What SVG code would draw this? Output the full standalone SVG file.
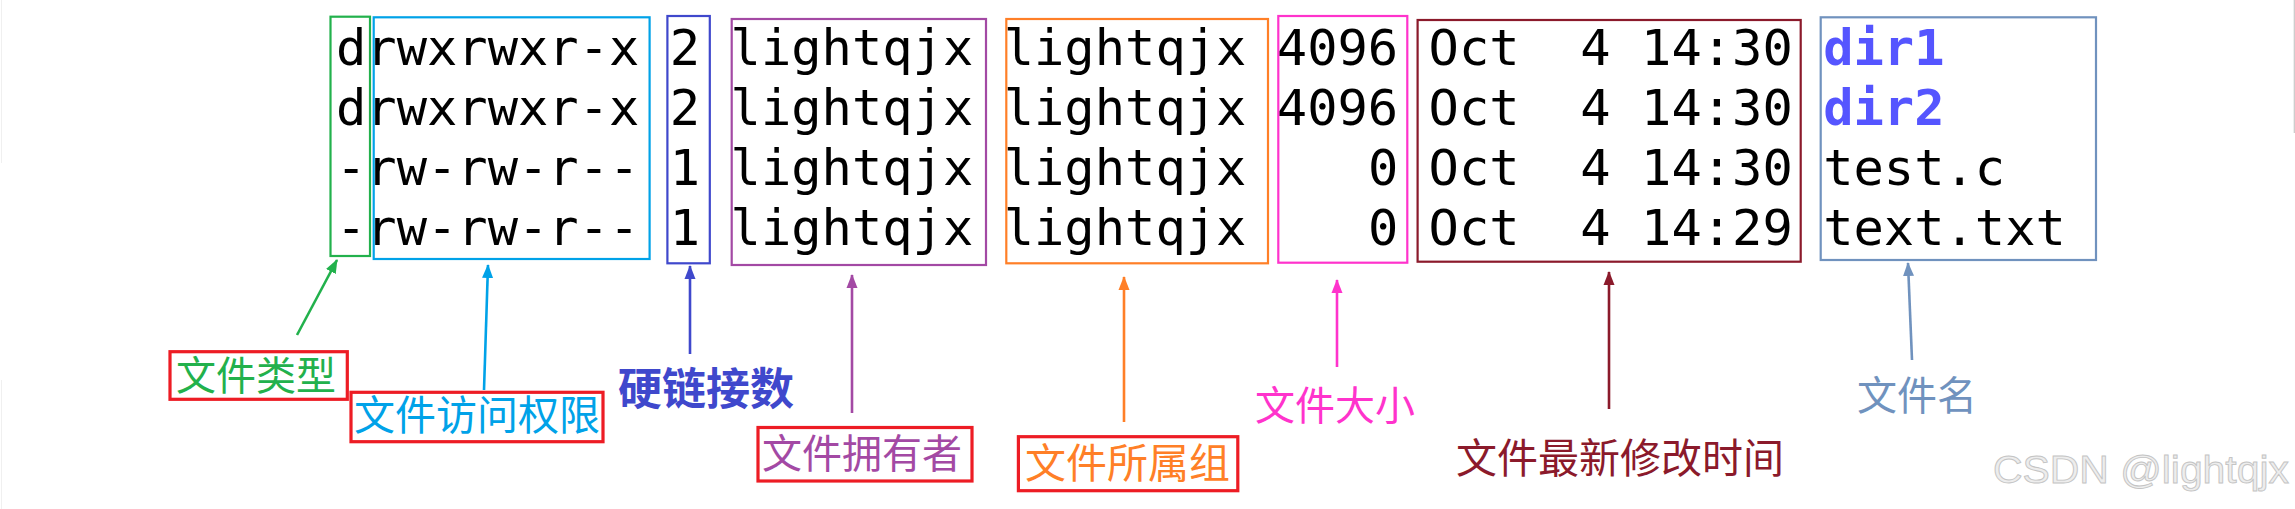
<svg xmlns="http://www.w3.org/2000/svg" width="2295" height="509" viewBox="0 0 2295 509">
<style>
.m{font-family:"DejaVu Sans Mono","Liberation Mono",monospace;font-size:50.4px;fill:#000}
.d{font-weight:bold;fill:#5555ff}
.box{fill:none;stroke-width:2.2}
.rb{fill:none;stroke:#ed1c24;stroke-width:3.2}
.cj{font-family:"Noto Sans CJK SC","Noto Sans",sans-serif;font-size:40px}
.ar{fill:none;stroke-width:2.6}
</style>
<defs>
<marker id="mg" markerUnits="userSpaceOnUse" markerWidth="14" markerHeight="12" refX="13" refY="6" orient="auto"><path d="M0,0.5 L14,6 L0,11.5 z" fill="#22b14c"/></marker>
<marker id="mc" markerUnits="userSpaceOnUse" markerWidth="14" markerHeight="12" refX="13" refY="6" orient="auto"><path d="M0,0.5 L14,6 L0,11.5 z" fill="#00a2e8"/></marker>
<marker id="mb" markerUnits="userSpaceOnUse" markerWidth="14" markerHeight="12" refX="13" refY="6" orient="auto"><path d="M0,0.5 L14,6 L0,11.5 z" fill="#3f48cc"/></marker>
<marker id="mp" markerUnits="userSpaceOnUse" markerWidth="14" markerHeight="12" refX="13" refY="6" orient="auto"><path d="M0,0.5 L14,6 L0,11.5 z" fill="#a349a4"/></marker>
<marker id="mo" markerUnits="userSpaceOnUse" markerWidth="14" markerHeight="12" refX="13" refY="6" orient="auto"><path d="M0,0.5 L14,6 L0,11.5 z" fill="#ff7f27"/></marker>
<marker id="mk" markerUnits="userSpaceOnUse" markerWidth="14" markerHeight="12" refX="13" refY="6" orient="auto"><path d="M0,0.5 L14,6 L0,11.5 z" fill="#ff33cc"/></marker>
<marker id="mr" markerUnits="userSpaceOnUse" markerWidth="14" markerHeight="12" refX="13" refY="6" orient="auto"><path d="M0,0.5 L14,6 L0,11.5 z" fill="#8b1a2b"/></marker>
<marker id="ms" markerUnits="userSpaceOnUse" markerWidth="14" markerHeight="12" refX="13" refY="6" orient="auto"><path d="M0,0.5 L14,6 L0,11.5 z" fill="#7092be"/></marker>
</defs>
<rect width="2295" height="509" fill="#fff"/>
<line x1="1.5" y1="0" x2="1.5" y2="163" stroke="#f0f0f0" stroke-width="1"/>
<line x1="1.5" y1="380" x2="1.5" y2="509" stroke="#f0f0f0" stroke-width="1"/>
<line x1="2294.3" y1="0" x2="2294.3" y2="133" stroke="#c8c8c8" stroke-width="1.2"/>

<g id="listing">
<text class="m" x="336" y="64.5">d</text>
<text class="m" x="336" y="124.5">d</text>
<text class="m" x="336" y="184.5">-</text>
<text class="m" x="336" y="244.5">-</text>
<text class="m" x="366.35" y="64.5">rwxrwxr-x</text>
<text class="m" x="366.35" y="124.5">rwxrwxr-x</text>
<text class="m" x="366.35" y="184.5">rw-rw-r--</text>
<text class="m" x="366.35" y="244.5">rw-rw-r--</text>
<text class="m" x="669.85" y="64.5">2</text>
<text class="m" x="669.85" y="124.5">2</text>
<text class="m" x="669.85" y="184.5">1</text>
<text class="m" x="669.85" y="244.5">1</text>
<text class="m" x="730.55" y="64.5">lightqjx</text>
<text class="m" x="730.55" y="124.5">lightqjx</text>
<text class="m" x="730.55" y="184.5">lightqjx</text>
<text class="m" x="730.55" y="244.5">lightqjx</text>
<text class="m" x="1003.7" y="64.5">lightqjx</text>
<text class="m" x="1003.7" y="124.5">lightqjx</text>
<text class="m" x="1003.7" y="184.5">lightqjx</text>
<text class="m" x="1003.7" y="244.5">lightqjx</text>
<text class="m" x="1276.85" y="64.5">4096</text>
<text class="m" x="1276.85" y="124.5">4096</text>
<text class="m" x="1367.9" y="184.5">0</text>
<text class="m" x="1367.9" y="244.5">0</text>
<text class="m" x="1428.6" y="64.5">Oct</text>
<text class="m" x="1428.6" y="124.5">Oct</text>
<text class="m" x="1428.6" y="184.5">Oct</text>
<text class="m" x="1428.6" y="244.5">Oct</text>
<text class="m" x="1580.35" y="64.5">4</text>
<text class="m" x="1580.35" y="124.5">4</text>
<text class="m" x="1580.35" y="184.5">4</text>
<text class="m" x="1580.35" y="244.5">4</text>
<text class="m" x="1641.05" y="64.5">14:30</text>
<text class="m" x="1641.05" y="124.5">14:30</text>
<text class="m" x="1641.05" y="184.5">14:30</text>
<text class="m" x="1641.05" y="244.5">14:29</text>
<text class="m d" x="1823.15" y="64.5">dir1</text>
<text class="m d" x="1823.15" y="124.5">dir2</text>
<text class="m" x="1823.15" y="184.5">test.c</text>
<text class="m" x="1823.15" y="244.5">text.txt</text>
</g>

<g id="type">
<rect class="box" x="330.5" y="16.7" width="39.5" height="239.3" stroke="#22b14c"/>
<rect class="rb" x="170" y="351.7" width="177.3" height="47.6"/>
<text class="cj" x="176" y="389.5" fill="#22b14c">文件类型</text>
</g>
<g id="perm">
<rect class="box" x="373.7" y="17.3" width="275.9" height="241.7" stroke="#00a2e8"/>
<rect class="rb" x="351" y="392.3" width="252" height="49.4"/>
<text class="cj" x="354" y="430" fill="#00a2e8" style="font-size:41px">文件访问权限</text>
</g>
<g id="links">
<rect class="box" x="667.4" y="16" width="42.4" height="247.3" stroke="#3f48cc"/>
<text class="cj" x="618" y="405" fill="#3f48cc" style="font-size:44px;font-weight:bold">硬链接数</text>
</g>
<g id="owner">
<rect class="box" x="731.7" y="19" width="254.3" height="246" stroke="#a349a4"/>
<rect class="rb" x="758" y="427.5" width="214" height="53.5"/>
<text class="cj" x="762" y="468" fill="#a349a4">文件拥有者</text>
</g>
<g id="group">
<rect class="box" x="1006.3" y="19" width="261.7" height="244.3" stroke="#ff7f27"/>
<rect class="rb" x="1018.4" y="436.7" width="219.4" height="54"/>
<text class="cj" x="1025" y="478" fill="#ff7f27" style="font-size:41px">文件所属组</text>
</g>
<g id="size">
<rect class="box" x="1278.3" y="16" width="129" height="246.7" stroke="#ff33cc"/>
<text class="cj" x="1255" y="419.5" fill="#ff33cc">文件大小</text>
</g>
<g id="mtime">
<rect class="box" x="1417.6" y="20" width="383.1" height="241.7" stroke="#8b1a2b"/>
<text class="cj" x="1456" y="473" fill="#8b1a2b" style="font-size:41px">文件最新修改时间</text>
</g>
<g id="name">
<rect class="box" x="1820.7" y="17.3" width="275.3" height="242.7" stroke="#7092be"/>
<text class="cj" x="1857" y="409.5" fill="#7092be">文件名</text>
</g>

<g id="connectors">
<line class="ar" x1="297" y1="335" x2="337" y2="260" stroke="#22b14c" marker-end="url(#mg)"/>
<line class="ar" x1="484" y1="390" x2="488" y2="265" stroke="#00a2e8" marker-end="url(#mc)"/>
<line class="ar" x1="690" y1="354" x2="690" y2="266" stroke="#3f48cc" marker-end="url(#mb)"/>
<line class="ar" x1="852" y1="413" x2="852" y2="275" stroke="#a349a4" marker-end="url(#mp)"/>
<line class="ar" x1="1124" y1="422" x2="1124" y2="277" stroke="#ff7f27" marker-end="url(#mo)"/>
<line class="ar" x1="1337" y1="367" x2="1337" y2="280" stroke="#ff33cc" marker-end="url(#mk)"/>
<line class="ar" x1="1609" y1="409" x2="1609" y2="272" stroke="#8b1a2b" marker-end="url(#mr)"/>
<line class="ar" x1="1912" y1="360" x2="1908" y2="263" stroke="#7092be" marker-end="url(#ms)"/>
</g>

<text x="1993" y="483" font-family="'Liberation Sans',Arial,sans-serif" font-size="39" textLength="296" lengthAdjust="spacingAndGlyphs" fill="#ededed" stroke="#c4c4c4" stroke-width="0.9">CSDN @lightqjx</text>
</svg>
